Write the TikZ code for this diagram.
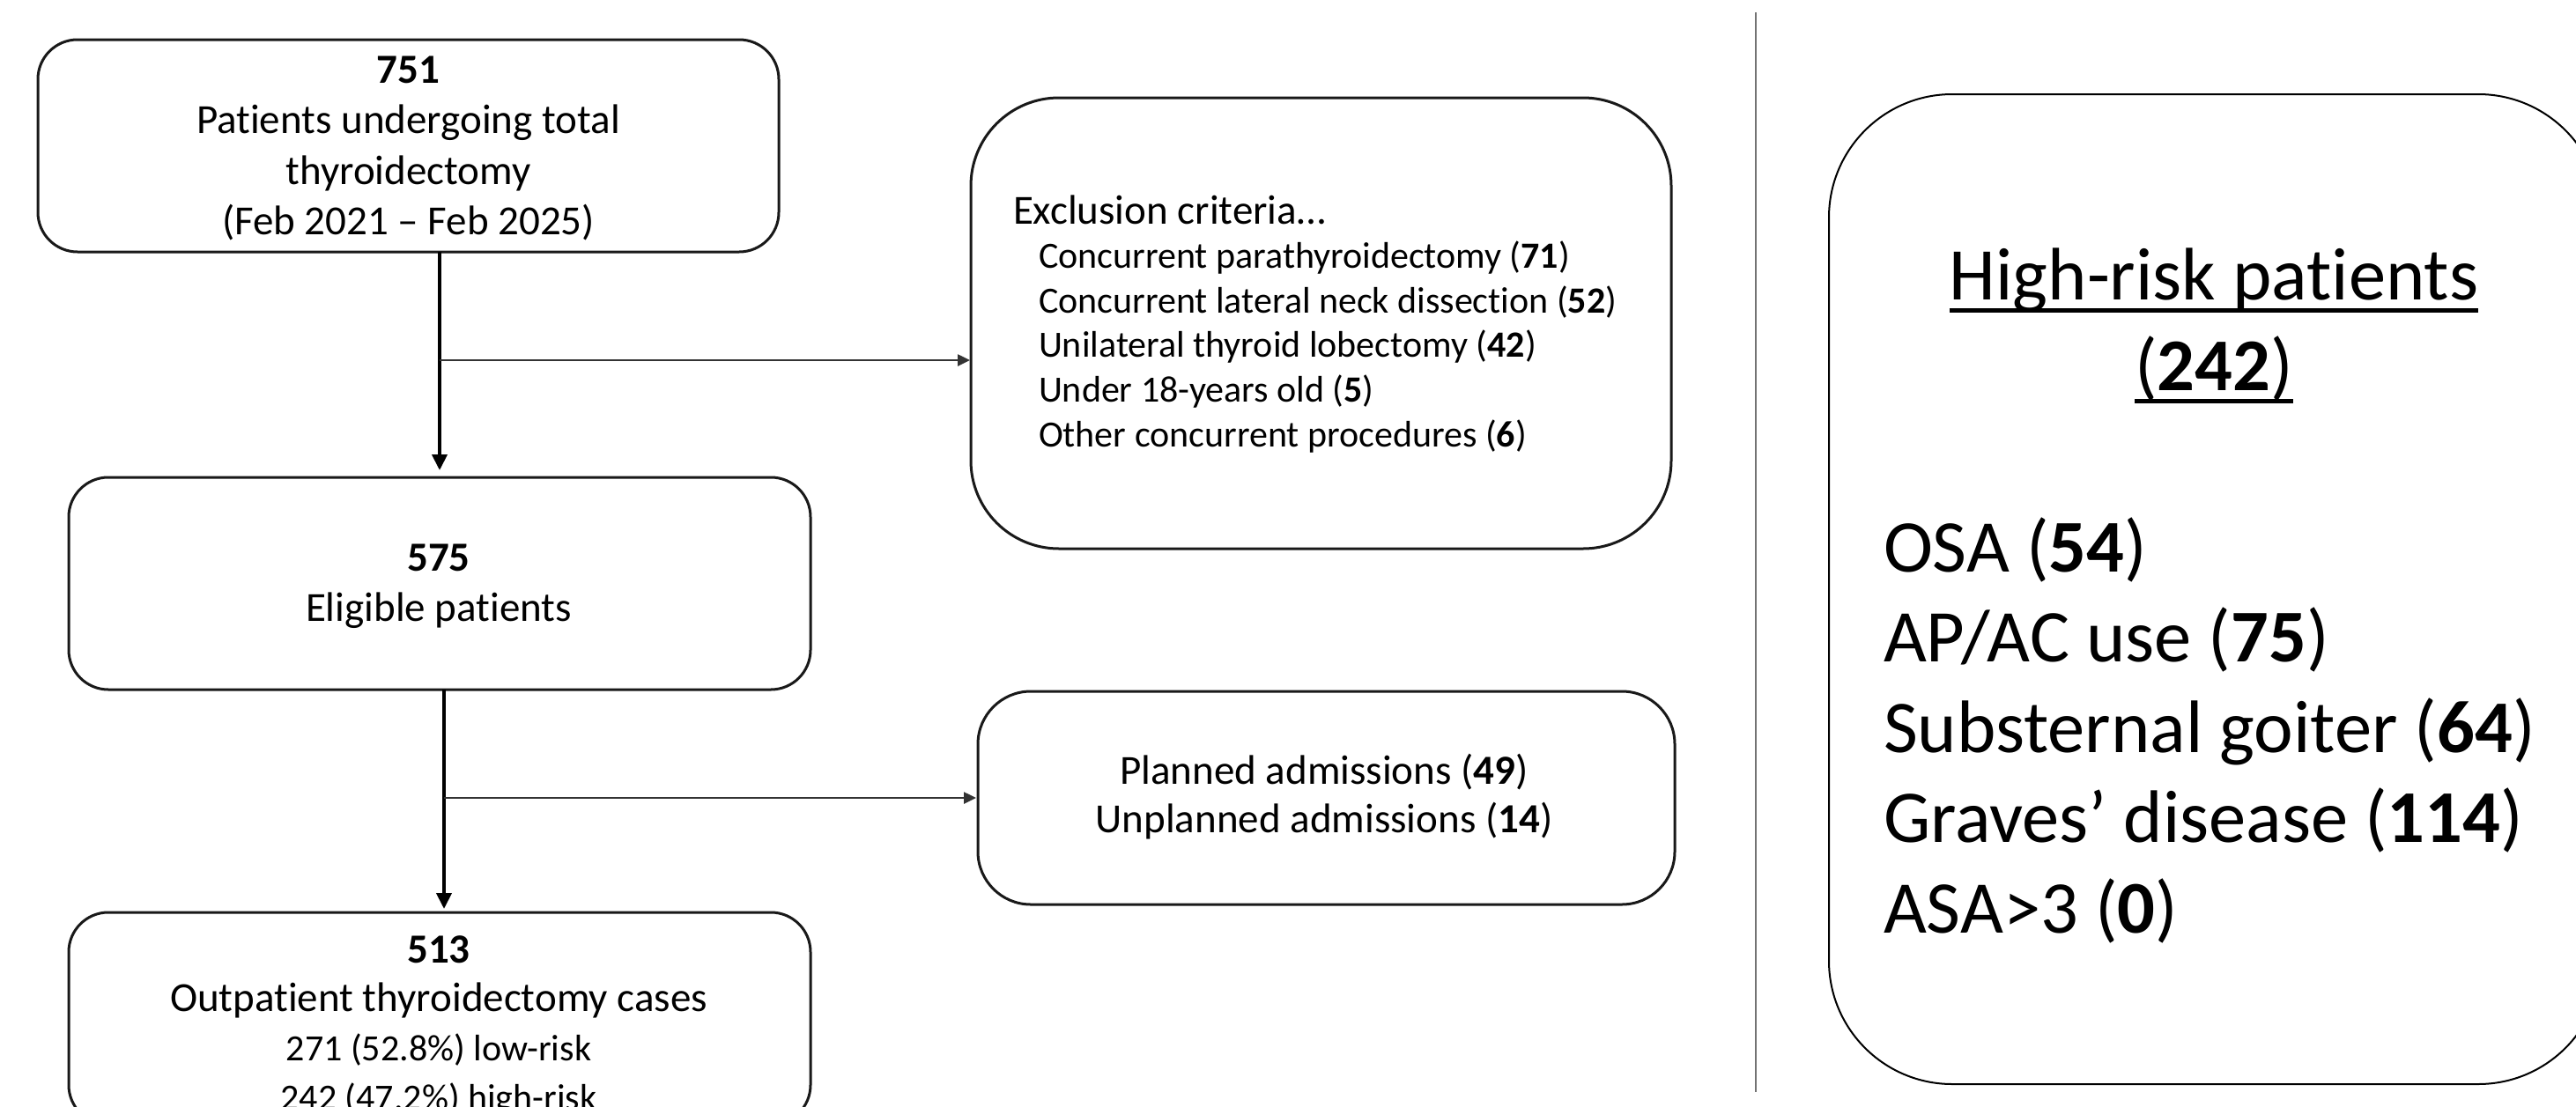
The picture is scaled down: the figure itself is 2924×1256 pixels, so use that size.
\documentclass[tikz,border=0pt]{standalone}
\usepackage{fontspec}
\setmainfont{Carlito}[Ligatures={NoCommon}]
\usetikzlibrary{arrows.meta}
\newcommand\fbig{\fontsize{47}{57}\selectfont}
\newcommand\fsmall{\fontsize{42}{50}\selectfont}
\newcommand\fhuge{\fontsize{84.5}{103}\selectfont}
\newcommand\ulbar[1]{\setbox0\hbox{#1}\rlap{\raisebox{-14.5pt}{\rule{\wd0}{5pt}}}\box0}
\begin{document}
\begin{tikzpicture}[x=1pt,y=-1pt,
  flowbox/.style={draw=black!90,line width=3pt,inner sep=0pt,outer sep=0pt},
  txt/.style={inner sep=0pt,outer sep=0pt,text=black},
  arr/.style={draw=black,line width=4pt,-{Triangle[length=18pt,width=17pt]}},
  branch/.style={draw=black!80,line width=2.5pt,-{Triangle[length=14pt,width=13pt]}},
  divider/.style={draw=black!55,line width=2pt}]
\useasboundingbox (0,0) rectangle (2924,1256);
\clip (0,0) rectangle (2924,1256);

% boxes
\node[flowbox,rounded corners=45pt,minimum width=841pt,minimum height=241pt] (A) at (463.5,165.5) {};
\node[flowbox,rounded corners=45pt,minimum width=842pt,minimum height=241pt] (B) at (499,662.5) {};
\node[flowbox,rounded corners=45pt,minimum width=842pt,minimum height=241pt] (C) at (499,1156.5) {};
\node[flowbox,rounded corners=100pt,minimum width=795pt,minimum height=512pt] (Ex) at (1499.5,367) {};
\node[flowbox,rounded corners=60pt,minimum width=791pt,minimum height=242pt] (Ad) at (1505.5,906) {};
\node[draw=black,line width=2pt,rounded corners=140pt,inner sep=0pt,minimum width=877pt,minimum height=1124pt] (HR) at (2514.5,669) {};

% box A text
\node[txt,anchor=base,font=\fbig] (a1) at (463.5,94) {\textbf{751}};
\node[txt,anchor=base,font=\fbig] (a2) at (463.5,151.5) {Patients undergoing total};
\node[txt,anchor=base,font=\fbig] (a3) at (463.5,209) {thyroidectomy};
\node[txt,anchor=base,font=\fbig] (a4) at (463.5,266) {(Feb 2021 – Feb 2025)};

% box B text
\node[txt,anchor=base,font=\fbig] (b1) at (498,648) {\textbf{575}};
\node[txt,anchor=base,font=\fbig] (b2) at (498,705) {Eligible patients};

% box C text
\node[txt,anchor=base,font=\fbig] (c1) at (498,1093) {\textbf{513}};
\node[txt,anchor=base,font=\fbig] (c2) at (498,1148) {Outpatient thyroidectomy cases};
\node[txt,anchor=base,font=\fsmall] (c3) at (498,1204) {271 (52.8\%) low-risk};
\node[txt,anchor=base,font=\fsmall] (c4) at (498,1260) {242 (47.2\%) high-risk};

% exclusion text
\node[txt,anchor=base west,font=\fbig] (e0) at (1150,254) {Exclusion criteria…};
\node[txt,anchor=base west,font=\fsmall] (e1) at (1179,304.5) {Concurrent parathyroidectomy (\textbf{71})};
\node[txt,anchor=base west,font=\fsmall] (e2) at (1179,355) {Concurrent lateral neck dissection (\textbf{52})};
\node[txt,anchor=base west,font=\fsmall] (e3) at (1179,405.5) {Unilateral thyroid lobectomy (\textbf{42})};
\node[txt,anchor=base west,font=\fsmall] (e4) at (1179,456.5) {Under 18-years old (\textbf{5})};
\node[txt,anchor=base west,font=\fsmall] (e5) at (1179,507) {Other concurrent procedures (\textbf{6})};

% admissions text
\node[txt,anchor=base,font=\fbig] (d1) at (1503,890) {Planned admissions (\textbf{49})};
\node[txt,anchor=base,font=\fbig] (d2) at (1503,945) {Unplanned admissions (\textbf{14})};

% high-risk text
\node[txt,anchor=base,font=\fhuge] (h1) at (2513,340) {\ulbar{High-risk patients}};
\node[txt,anchor=base,font=\fhuge] (h2) at (2513,443) {\ulbar{(\textbf{242})}};
\node[txt,anchor=base west,font=\fhuge] (h3) at (2138,649) {OSA (\textbf{54})};
\node[txt,anchor=base west,font=\fhuge] (h4) at (2138,751.5) {AP/AC use (\textbf{75})};
\node[txt,anchor=base west,font=\fhuge] (h5) at (2138,854) {Substernal goiter (\textbf{64})};
\node[txt,anchor=base west,font=\fhuge] (h6) at (2138,956.5) {Graves’ disease (\textbf{114})};
\node[txt,anchor=base west,font=\fhuge] (h7) at (2138,1059) {ASA>3 (\textbf{0})};

% connectors
\coordinate (x1) at (499,0);
\coordinate (x2) at (504,0);
\coordinate (j1) at (499,409);
\coordinate (j2) at (504,906);
\draw[arr,shorten >=8pt] (A.south -| x1) -- (B.north -| x1);
\draw[arr,shorten >=4pt] (B.south -| x2) -- (C.north -| x2);
\draw[branch,shorten >=1pt] (j1) -- (Ex.west |- j1);
\draw[branch,shorten >=2pt] (j2) -- (Ad.west |- j2);

% divider
\coordinate (v1) at (1993,14);
\coordinate (v2) at (1993,1240);
\draw[divider] (v1) -- (v2);
\end{tikzpicture}
\end{document}
